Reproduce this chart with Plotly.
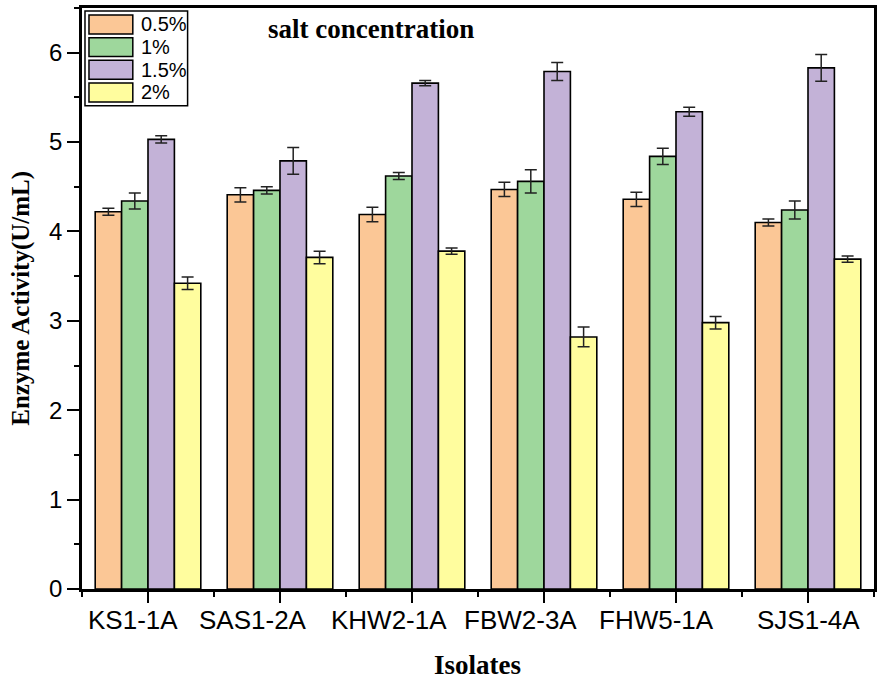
import plotly.graph_objects as go

# data
isolates = ["KS1-1A", "SAS1-2A", "KHW2-1A", "FBW2-3A", "FHW5-1A", "SJS1-4A"]
concentrations = ["0.5%", "1%", "1.5%", "2%"]

activity_05 = [4.22, 4.41, 4.19, 4.47, 4.36, 4.10]
activity_1 = [4.34, 4.46, 4.62, 4.56, 4.84, 4.24]
activity_15 = [5.03, 4.79, 5.66, 5.79, 5.34, 5.83]
activity_2 = [3.42, 3.71, 3.78, 2.82, 2.98, 3.69]

err_05 = [0.04, 0.08, 0.08, 0.08, 0.08, 0.04]
err_1 = [0.09, 0.04, 0.04, 0.13, 0.09, 0.10]
err_15 = [0.04, 0.15, 0.03, 0.10, 0.05, 0.15]
err_2 = [0.07, 0.07, 0.035, 0.11, 0.07, 0.035]

colors = ["#FBC796", "#9ED79C", "#C3B2D7", "#FFFD9E"]

# layout (pixels of the 882x681 canvas)
W, H = 882, 681
L, R, T, B = 82, 5, 7, 92
pw, ph = W - L - R, H - T - B


def px_x(x):
    return (x - L) / pw


def px_y(y):
    return (H - B - y) / ph


series = [activity_05, activity_1, activity_15, activity_2]
errors = [err_05, err_1, err_15, err_2]
xpos = list(range(1, len(isolates) + 1))

fig = go.Figure()
for name, vals, errs, col in zip(concentrations, series, errors, colors):
    fig.add_trace(go.Bar(
        x=xpos,
        y=vals,
        name=name,
        marker=dict(color=col, line=dict(color="black", width=1.6)),
        error_y=dict(type="data", array=errs, visible=True,
                     color="#222222", thickness=1.5, width=6),
        showlegend=False,
    ))

sans = "Liberation Sans, Arial"
bold_serif = "Liberation Serif, Times New Roman"

fig.update_layout(
    width=W, height=H,
    margin=dict(l=L, r=R, t=T, b=B),
    paper_bgcolor="white",
    plot_bgcolor="white",
    barmode="group",
    bargap=0.2,
    bargroupgap=0,
    xaxis=dict(
        range=[0.5, 6.5],
        tickvals=xpos,
        ticktext=[""] * len(xpos),
        ticks="outside", ticklen=11, tickwidth=2, tickcolor="black",
        minor=dict(tick0=0.5, dtick=1, ticks="outside", ticklen=5,
                   tickwidth=2, tickcolor="black"),
        showline=True, linecolor="black", linewidth=2.5, mirror=True,
        showgrid=False, zeroline=False,
    ),
    yaxis=dict(
        range=[0, 6.5],
        dtick=1,
        ticks="outside", ticklen=12, tickwidth=2, tickcolor="black",
        minor=dict(dtick=0.5, ticks="outside", ticklen=5,
                   tickwidth=2, tickcolor="black"),
        tickfont=dict(family=sans, size=24, color="black"),
        showline=True, linecolor="black", linewidth=2.5, mirror=True,
        showgrid=False, zeroline=False,
    ),
)

# category labels sit a little left of their ticks in the original
label_shift = [-15, -27, -23, -24, -20, 0]
for xi, lab, sh in zip(xpos, isolates, label_shift):
    fig.add_annotation(
        x=xi, y=0, xref="x", yref="paper", xshift=sh, yshift=-31,
        text=lab, showarrow=False, yanchor="middle", xanchor="center",
        font=dict(family=sans, size=26, color="black"),
    )

# titles
fig.add_annotation(
    x=px_x(479), y=px_y(665), xref="paper", yref="paper",
    xanchor="center", yanchor="middle",
    text="<b>Isolates</b>", showarrow=False,
    font=dict(family=bold_serif, size=27, color="black"),
)
fig.add_annotation(
    x=px_x(20), y=px_y(298), xref="paper", yref="paper",
    xanchor="center", yanchor="middle",
    text="<b>Enzyme Activity(U/mL)</b>", showarrow=False, textangle=-90,
    font=dict(family=bold_serif, size=25, color="black"),
)
fig.add_annotation(
    x=px_x(372), y=px_y(28), xref="paper", yref="paper",
    xanchor="center", yanchor="middle",
    text="<b>salt concentration</b>", showarrow=False,
    font=dict(family=bold_serif, size=27, color="black"),
)

# hand-drawn legend with wide swatches, like the original
fig.add_shape(type="rect", xref="paper", yref="paper",
              x0=px_x(85), x1=px_x(188), y0=px_y(105), y1=px_y(10),
              line=dict(color="black", width=1.5), fillcolor="white")
row_top = 14
for name, col in zip(concentrations, colors):
    fig.add_shape(type="rect", xref="paper", yref="paper",
                  x0=px_x(89), x1=px_x(133),
                  y0=px_y(row_top + 19), y1=px_y(row_top),
                  line=dict(color="black", width=1.5), fillcolor=col)
    fig.add_annotation(
        x=px_x(139), y=px_y(row_top + 9.5), xref="paper", yref="paper",
        text=name, showarrow=False, xanchor="left", yanchor="middle",
        font=dict(family=sans, size=20, color="black"),
    )
    row_top += 22.7

# drop the default page margin so the figure sits at the window corner
fig.write_html(
    "out.html",
    config={"displayModeBar": False},
    post_script="document.body.style.margin='0';"
                "document.body.style.overflow='hidden';",
)
